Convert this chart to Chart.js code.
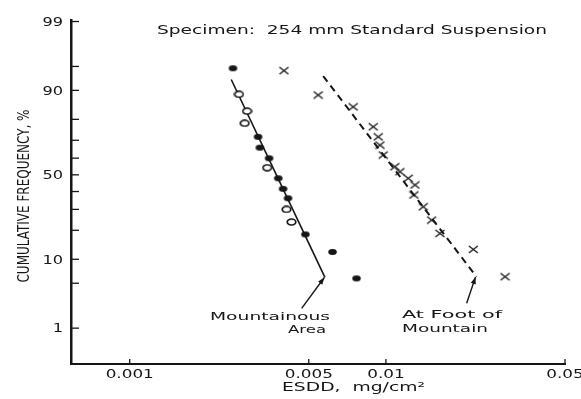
<!DOCTYPE html>
<html>
<head>
<meta charset="utf-8">
<script src="https://cdn.jsdelivr.net/npm/chart.js@4.4.1/dist/chart.umd.min.js"></script>
<style>
  html, body { margin: 0; padding: 0; background: #fff; }
  #wrap { width: 581px; height: 399px; }
</style>
</head>
<body>
<div id="wrap"><canvas id="chart" width="581" height="399"></canvas></div>
<script>
// ESDD in mg/cm2, cumulative frequency in %
const mountainFilledEsdd = [0.00253, 0.00317, 0.00322, 0.00350, 0.00380, 0.00397, 0.00415, 0.00485, 0.00619, 0.00768];
const mountainFilledFreq = [94.7, 71.8, 66.0, 59.9, 47.9, 41.6, 36.1, 18.3, 12.1, 5.8];

const mountainOpenEsdd = [0.00267, 0.00287, 0.00281, 0.00344, 0.00409, 0.00428];
const mountainOpenFreq = [88.9, 83.3, 78.3, 54.3, 30.0, 23.7];

const footEsdd = [0.00400, 0.00544, 0.00745, 0.00892, 0.00933, 0.00948, 0.00976, 0.01084, 0.01134,
                  0.01222, 0.01298, 0.01286, 0.01398, 0.01508, 0.01625, 0.02193, 0.02917];
const footFreq = [94.3, 88.7, 84.9, 76.7, 71.8, 67.4, 61.8, 54.9, 51.9,
                  47.9, 43.9, 38.0, 31.4, 24.6, 18.7, 12.9, 6.1];

// fitted lines
const mountainFitEsdd = [0.00249, 0.00578];
const mountainFitFreq = [92.6, 6.0];
const footFitEsdd = [0.00569, 0.02257];
const footFitFreq = [93.3, 6.1];

// arrows from the labels to the line ends: [esdd, freq]
const mountainArrow = [[0.00469, 2.14], [0.00575, 5.96]];
const footArrow = [[0.02066, 2.56], [0.02237, 6.05]];

const yTicks = [1, 5, 10, 20, 30, 40, 50, 60, 70, 80, 90, 95, 99];
const yTickLabels = ['1', '', '10', '', '', '', '50', '', '', '', '90', '', '99'];
const xTicks = [0.001, 0.005, 0.01, 0.05];
const xTickLabels = ['0.001', '0.005', '0.01', '0.05'];
const yRange = [0.205, 99.06];
const xRange = [0.00059, 0.05];

// inverse normal cdf (Acklam), used for the probability axis
function probit(pct) {
  const p = pct / 100;
  const a = [-39.6968302866538, 220.946098424521, -275.928510446969, 138.357751867269, -30.6647980661472, 2.50662827745924];
  const b = [-54.4760987982241, 161.585836858041, -155.698979859887, 66.8013118877197, -13.2806815528857];
  const c = [-0.00778489400243029, -0.322396458041136, -2.40075827716184, -2.54973253934373, 4.37466414146497, 2.93816398269878];
  const d = [0.00778469570904146, 0.32246712907004, 2.445134137143, 3.75440866190742];
  const pl = 0.02425;
  let q, r;
  if (p < pl) {
    q = Math.sqrt(-2 * Math.log(p));
    return (((((c[0] * q + c[1]) * q + c[2]) * q + c[3]) * q + c[4]) * q + c[5]) /
      ((((d[0] * q + d[1]) * q + d[2]) * q + d[3]) * q + 1);
  }
  if (p > 1 - pl) {
    q = Math.sqrt(-2 * Math.log(1 - p));
    return -(((((c[0] * q + c[1]) * q + c[2]) * q + c[3]) * q + c[4]) * q + c[5]) /
      ((((d[0] * q + d[1]) * q + d[2]) * q + d[3]) * q + 1);
  }
  q = p - 0.5;
  r = q * q;
  return (((((a[0] * r + a[1]) * r + a[2]) * r + a[3]) * r + a[4]) * r + a[5]) * q /
    (((((b[0] * r + b[1]) * r + b[2]) * r + b[3]) * r + b[4]) * r + 1);
}

function toPoints(xs, ys) {
  return xs.map((x, i) => ({ x: x, y: probit(ys[i]) }));
}

const INK = '#161616';
const FONT = 'DejaVu Sans, Liberation Sans, sans-serif';

function ellipseMarker(filled) {
  const c = document.createElement('canvas');
  c.width = 11; c.height = 8;
  const g = c.getContext('2d');
  g.beginPath();
  g.ellipse(5.5, 4, 4.3, 3, 0, 0, Math.PI * 2);
  if (filled) {
    g.fillStyle = INK;
    g.fill();
  } else {
    g.fillStyle = '#fff';
    g.fill();
    g.lineWidth = 1.7;
    g.strokeStyle = INK;
    g.stroke();
  }
  return c;
}

function crossMarker() {
  const c = document.createElement('canvas');
  c.width = 11; c.height = 9;
  const g = c.getContext('2d');
  g.strokeStyle = INK;
  g.lineWidth = 1.3;
  g.beginPath();
  g.moveTo(1, 1); g.lineTo(10, 8);
  g.moveTo(10, 1); g.lineTo(1, 8);
  g.stroke();
  return c;
}

// text squeezed/stretched horizontally to a given width
function fitText(ctx, text, left, baseline, width, font) {
  ctx.save();
  ctx.font = font;
  const m = ctx.measureText(text).width;
  ctx.translate(left, baseline);
  ctx.scale(width / m, 1);
  ctx.textAlign = 'left';
  ctx.textBaseline = 'alphabetic';
  ctx.fillText(text, 0, 0);
  ctx.restore();
}

function stretchText(ctx, text, x, baseline, sx, font, align) {
  ctx.save();
  ctx.font = font;
  const w = ctx.measureText(text).width * sx;
  let left = x;
  if (align === 'center') left = x - w / 2;
  if (align === 'right') left = x - w;
  ctx.translate(left, baseline);
  ctx.scale(sx, 1);
  ctx.textAlign = 'left';
  ctx.textBaseline = 'alphabetic';
  ctx.fillText(text, 0, 0);
  ctx.restore();
}

function drawArrow(ctx, xs, ys, from, to) {
  const x0 = xs.getPixelForValue(from[0]), y0 = ys.getPixelForValue(probit(from[1]));
  const x1 = xs.getPixelForValue(to[0]), y1 = ys.getPixelForValue(probit(to[1]));
  const ang = Math.atan2(y1 - y0, x1 - x0);
  ctx.save();
  ctx.strokeStyle = INK;
  ctx.fillStyle = INK;
  ctx.lineWidth = 1.4;
  ctx.beginPath();
  ctx.moveTo(x0, y0);
  ctx.lineTo(x1, y1);
  ctx.stroke();
  ctx.translate(x1, y1);
  ctx.rotate(ang);
  ctx.beginPath();
  ctx.moveTo(0, 0);
  ctx.lineTo(-7, -2.6);
  ctx.lineTo(-7, 2.6);
  ctx.closePath();
  ctx.fill();
  ctx.restore();
}

const decorations = {
  id: 'decorations',
  afterDraw(chart) {
    const ctx = chart.ctx;
    const xs = chart.scales.x;
    const ys = chart.scales.y;
    const area = chart.chartArea;
    ctx.save();
    ctx.fillStyle = INK;
    ctx.strokeStyle = INK;

    // inward tick marks and labels on the probability axis
    ctx.lineWidth = 1.3;
    yTicks.forEach((p, i) => {
      const y = ys.getPixelForValue(probit(p));
      ctx.beginPath();
      ctx.moveTo(area.left, y);
      ctx.lineTo(area.left + 8, y);
      ctx.stroke();
      if (yTickLabels[i]) {
        stretchText(ctx, yTickLabels[i], area.left - 8, y + 4.3, 1.35, '12px ' + FONT, 'right');
      }
    });

    // upward tick marks and labels on the ESDD axis
    xTicks.forEach((v, i) => {
      const x = xs.getPixelForValue(v);
      ctx.beginPath();
      ctx.moveTo(x, area.bottom);
      ctx.lineTo(x, area.bottom - 5);
      ctx.stroke();
      stretchText(ctx, xTickLabels[i], x, area.bottom + 14, 1.4, '12px ' + FONT, 'center');
    });

    fitText(ctx, 'Specimen:  254 mm Standard Suspension', 157, 33.5, 390, '12px ' + FONT);
    fitText(ctx, 'ESDD,  mg/cm\u00b2', 282, 391, 143, '12px ' + FONT);

    fitText(ctx, 'Mountainous', 210, 320, 120, '11px ' + FONT);
    fitText(ctx, 'Area', 288, 333, 38, '11px ' + FONT);
    fitText(ctx, 'At Foot of', 402, 317.5, 100, '11px ' + FONT);
    fitText(ctx, 'Mountain', 402, 331.5, 86, '11px ' + FONT);

    ctx.save();
    ctx.translate(28.5, 196);
    ctx.rotate(-Math.PI / 2);
    fitText(ctx, 'CUMULATIVE FREQUENCY, %', -86.5, 0, 173, '15px ' + FONT);
    ctx.restore();

    drawArrow(ctx, xs, ys, mountainArrow[0], mountainArrow[1]);
    drawArrow(ctx, xs, ys, footArrow[0], footArrow[1]);
    ctx.restore();
  }
};

new Chart(document.getElementById('chart'), {
  type: 'scatter',
  data: {
    datasets: [
      {
        label: 'Mountainous Area',
        data: toPoints(mountainFilledEsdd, mountainFilledFreq),
        pointStyle: ellipseMarker(true),
        order: 1
      },
      {
        label: 'Mountainous Area (open)',
        data: toPoints(mountainOpenEsdd, mountainOpenFreq),
        pointStyle: ellipseMarker(false),
        order: 1
      },
      {
        label: 'At Foot of Mountain',
        data: toPoints(footEsdd, footFreq),
        pointStyle: crossMarker(),
        order: 1
      },
      {
        label: 'Mountainous Area fit',
        data: toPoints(mountainFitEsdd, mountainFitFreq),
        showLine: true,
        borderColor: INK,
        borderWidth: 1.6,
        pointRadius: 0,
        order: 2
      },
      {
        label: 'At Foot of Mountain fit',
        data: toPoints(footFitEsdd, footFitFreq),
        showLine: true,
        borderColor: INK,
        borderWidth: 2,
        borderDash: [7, 5],
        pointRadius: 0,
        order: 2
      }
    ]
  },
  options: {
    responsive: false,
    animation: false,
    layout: { padding: { top: 20, right: 16, left: 0, bottom: 0 } },
    plugins: {
      legend: { display: false },
      tooltip: { enabled: false }
    },
    scales: {
      x: {
        type: 'logarithmic',
        min: xRange[0],
        max: xRange[1],
        afterFit: (scale) => { scale.height = 35; },
        afterBuildTicks: (scale) => { scale.ticks = xTicks.map(v => ({ value: v })); },
        grid: { display: false },
        ticks: { display: false },
        border: { display: true, color: INK, width: 2 }
      },
      y: {
        type: 'linear',
        min: probit(yRange[0]),
        max: probit(yRange[1]),
        afterFit: (scale) => { scale.width = 71; },
        afterBuildTicks: (scale) => { scale.ticks = yTicks.map(p => ({ value: probit(p) })); },
        grid: { display: false },
        ticks: { display: false },
        border: { display: true, color: INK, width: 2.5 }
      }
    }
  },
  plugins: [decorations]
});
</script>
</body>
</html>
